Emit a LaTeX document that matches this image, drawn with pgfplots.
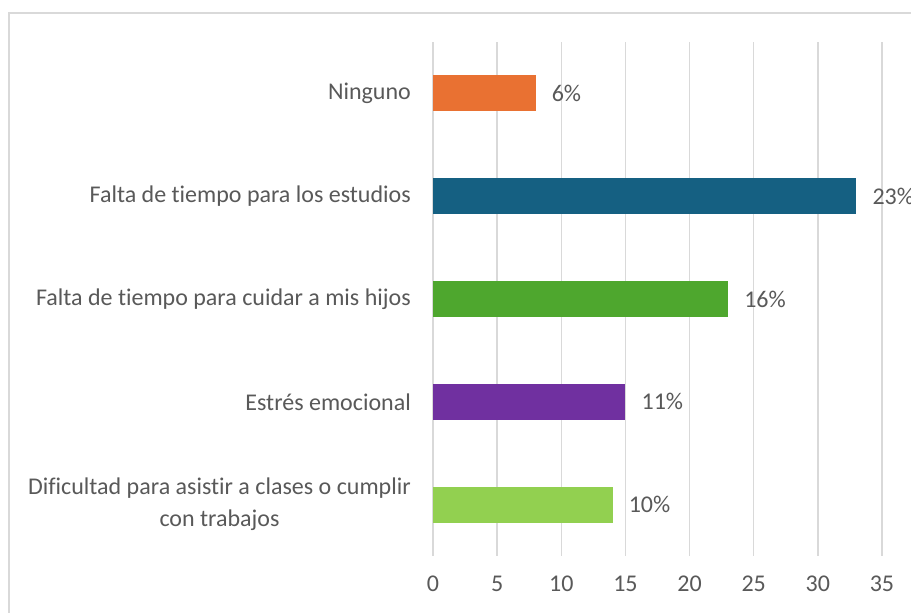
\documentclass[border=0pt]{standalone}
\usepackage{pgfplots}
\pgfplotsset{compat=1.18}
\usepackage{fontspec}
\setmainfont[Ligatures={NoCommon,NoRequired,NoContextual}]{Carlito}
\definecolor{txt}{HTML}{595959}
\definecolor{grd}{HTML}{D9D9D9}
\definecolor{cOr}{HTML}{E97132}
\definecolor{cBl}{HTML}{156082}
\definecolor{cGr}{HTML}{4EA72E}
\definecolor{cPu}{HTML}{7030A0}
\definecolor{cLg}{HTML}{92D050}
\begin{document}
\fontsize{24pt}{30pt}\selectfont
\begin{tikzpicture}
\clip (-433pt,-57pt) rectangle (478pt,556pt);
\fill[white] (-433pt,-57pt) rectangle (478pt,556pt);
\draw[grd, line width=1.5pt] (-424pt,-80pt) rectangle (500pt,543pt);
\begin{axis}[
    xbar,
    scale only axis,
    width=449pt, height=514pt,
    xmin=0, xmax=35,
    ymin=-0.5, ymax=4.5,
    xtick={0,5,...,35},
    ytick={0,1,2,3,4},
    yticklabels={{Dificultad para asistir a clases o cumplir\\con trabajos},
      Estrés emocional, Falta de tiempo para cuidar a mis hijos,
      Falta de tiempo para los estudios, Ninguno},
    yticklabel style={align=center, text=txt, font=\fontsize{24pt}{32pt}\selectfont, xshift=-14pt},
    xticklabel style={text=txt, font=\fontsize{24pt}{26pt}\selectfont, yshift=-12pt},
    /pgf/number format/assume math mode=true,
    axis line style={draw=none},
    major tick length=0pt,
    xmajorgrids,
    grid style={grd, line width=1.5pt},
    bar width=36pt,
    bar shift=0pt,
    nodes near coords,
    nodes near coords style={text=txt, font=\fontsize{24pt}{26pt}\selectfont, anchor=west, xshift=8pt},
    point meta=explicit symbolic,
  ]
\addplot[fill=cLg, draw=none] coordinates {(14,0) [10\%]};
\addplot[fill=cPu, draw=none] coordinates {(15,1) [11\%]};
\addplot[fill=cGr, draw=none] coordinates {(23,2) [16\%]};
\addplot[fill=cBl, draw=none] coordinates {(33,3) [23\%]};
\addplot[fill=cOr, draw=none] coordinates {(8,4) [6\%]};
\end{axis}
\end{tikzpicture}
\end{document}
